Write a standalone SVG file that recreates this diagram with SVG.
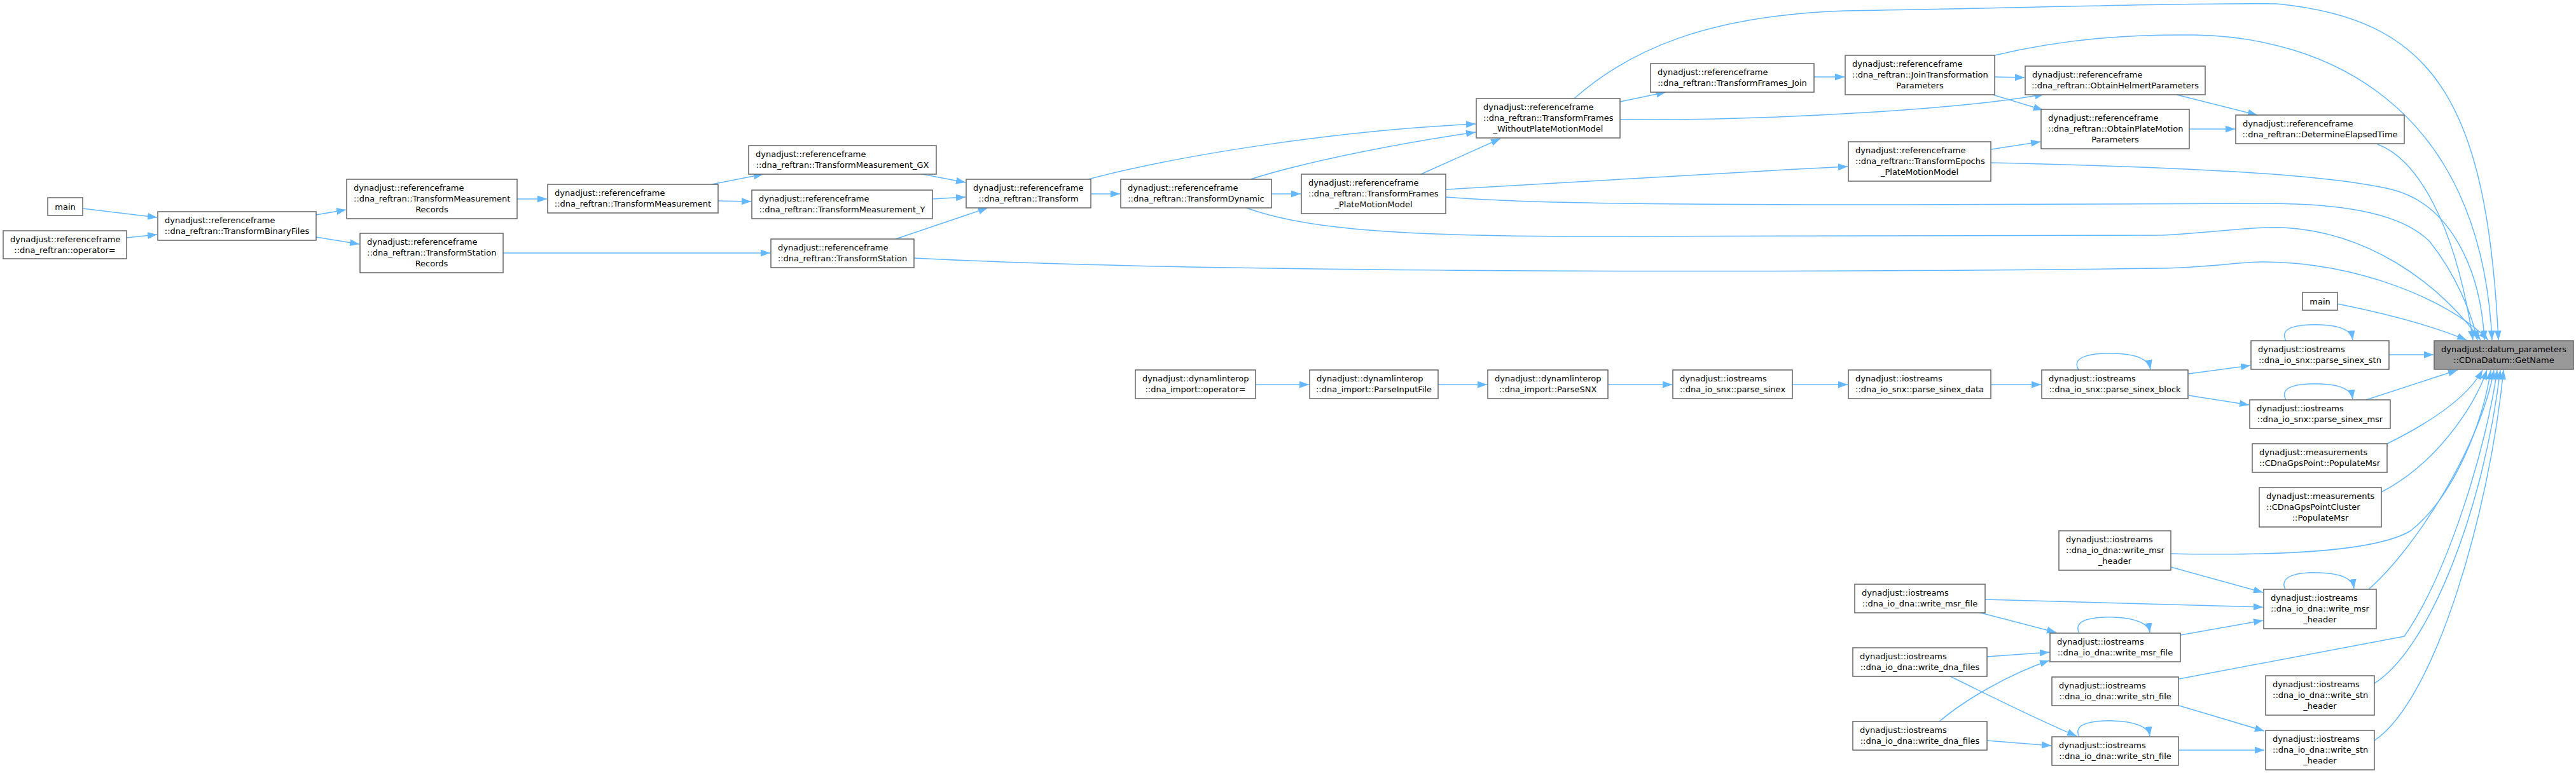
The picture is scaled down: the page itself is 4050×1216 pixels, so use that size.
<svg xmlns="http://www.w3.org/2000/svg" width="4050" height="1216" viewBox="0 0 4050 1216">
<style>
.n rect{fill:#fff;stroke:#666;stroke-width:1.5}
.h rect{fill:#999;stroke:#666;stroke-width:1.5}
text{font-family:"DejaVu Sans",sans-serif;font-size:13px;fill:#000}
.c{text-anchor:middle}
#edges path{fill:none;stroke:#63b8ff;stroke-width:1.5;marker-end:url(#a)}
</style>
<defs>
<marker id="a" markerWidth="15" markerHeight="11" refX="15" refY="5.5" orient="auto" markerUnits="userSpaceOnUse"><path d="M0,0 L15,5.5 L0,11 z" fill="#63b8ff"/></marker>
</defs>
<rect width="4050" height="1216" fill="#fff"/>
<g id="edges">
<path d="M130,328 L247,342"/>
<path d="M199,374 L247,369"/>
<path d="M497,338 L544,330"/>
<path d="M497,373 L565,384"/>
<path d="M813,313 L860,313"/>
<path d="M791,398 L1211,398"/>
<path d="M1119,290 L1200,274"/>
<path d="M1129,316 L1181,317"/>
<path d="M1450,274 L1518,287"/>
<path d="M1466,313 L1518,310"/>
<path d="M1408,376 L1553,327"/>
<path d="M1437,406 C1800,425 2600,432 3400,422 C3480,420 3520,412 3560,412 C3700,412 3850,470 3912,535"/>
<path d="M1715,305 L1761,305"/>
<path d="M1711,282 C1850,245 2100,205 2320,195"/>
<path d="M1966,282 C2050,255 2200,225 2320,208"/>
<path d="M1999,305 L2045,305"/>
<path d="M2234,274 L2359,218"/>
<path d="M1959,327 C2040,355 2150,372 2500,372 L3400,370 C3480,366 3540,356 3590,358 C3720,365 3830,440 3900,535"/>
<path d="M2273,298 C2500,285 2700,272 2905,262"/>
<path d="M2273,310 C2400,320 2600,322 3000,322 L3560,320 C3700,320 3780,340 3820,380 C3860,430 3885,490 3895,535"/>
<path d="M2547,160 L2619,145"/>
<path d="M2547,188 C2800,190 3100,170 3214,148"/>
<path d="M2475,155 C2560,80 2680,25 2900,17 C3200,12 3450,4 3580,6 C3820,30 3910,150 3928,535"/>
<path d="M2852,121 L2900,121"/>
<path d="M3136,121 L3183,122"/>
<path d="M3133,149 L3212,173"/>
<path d="M3136,87 C3250,60 3350,54 3450,55 C3650,58 3900,160 3918,535"/>
<path d="M3422,149 L3549,181"/>
<path d="M3442,203 L3514,203"/>
<path d="M3130,235 L3208,223"/>
<path d="M3130,256 C3400,262 3650,272 3760,298 C3850,320 3900,420 3906,535"/>
<path d="M3738,227 C3800,250 3860,350 3888,535"/>
<path d="M1974,605 L2058,605"/>
<path d="M2261,605 L2338,605"/>
<path d="M2528,605 L2629,605"/>
<path d="M2818,605 L2905,605"/>
<path d="M3130,605 L3209,605"/>
<path d="M3268,582 C3255,560 3290,555 3325,556 C3360,557 3378,565 3381,581"/>
<path d="M3441,588 L3538,575"/>
<path d="M3441,622 L3536,637"/>
<path d="M3594,536 C3582,514 3615,510 3649,511 C3680,512 3697,520 3699,535"/>
<path d="M3594,629 C3582,607 3615,603 3649,604 C3680,605 3697,613 3699,628"/>
<path d="M3756,558 L3826,558"/>
<path d="M3720,629 L3864,582"/>
<path d="M3675,478 C3760,495 3830,515 3878,535"/>
<path d="M3753,698 C3820,665 3880,625 3903,582"/>
<path d="M3744,774 C3830,730 3890,640 3910,582"/>
<path d="M3413,871 C3600,875 3740,865 3790,835 C3860,780 3905,660 3916,582"/>
<path d="M3413,892 L3558,932"/>
<path d="M3593,927 C3582,905 3615,900 3647,901 C3680,902 3699,910 3701,926"/>
<path d="M3724,927 C3800,860 3900,700 3921,582"/>
<path d="M3121,943 L3558,955"/>
<path d="M3110,963 L3233,995"/>
<path d="M3269,996 C3258,975 3290,970 3323,971 C3355,972 3378,980 3380,995"/>
<path d="M3428,999 L3558,976"/>
<path d="M3124,1033 L3222,1026"/>
<path d="M3064,1063 C3120,1090 3194,1128 3265,1158"/>
<path d="M3049,1135 C3090,1100 3160,1060 3222,1039"/>
<path d="M3124,1165 L3225,1173"/>
<path d="M3269,1159 C3258,1138 3290,1133 3323,1134 C3355,1135 3378,1143 3380,1158"/>
<path d="M3426,1110 L3560,1150"/>
<path d="M3426,1068 L3780,1001 C3850,900 3910,700 3926,582"/>
<path d="M3426,1180 L3560,1180"/>
<path d="M3733,1075 C3820,1020 3905,800 3931,582"/>
<path d="M3733,1165 C3830,1100 3915,800 3936,582"/>
</g>
<g id="n1" class="n"><rect x="75" y="311" width="55" height="28"/><text class="c" x="102.5" y="329.5">main</text></g>
<g id="n2" class="n"><rect x="5" y="363" width="194" height="44"/><text x="16" y="381">dynadjust::referenceframe</text><text class="c" x="102" y="398">::dna_reftran::operator=</text></g>
<g id="n3" class="n"><rect x="248" y="333" width="249" height="45"/><text x="259" y="351">dynadjust::referenceframe</text><text class="c" x="372.5" y="368">::dna_reftran::TransformBinaryFiles</text></g>
<g id="n4" class="n"><rect x="545" y="282" width="268" height="62"/><text x="556" y="300">dynadjust::referenceframe</text><text x="556" y="317">::dna_reftran::TransformMeasurement</text><text class="c" x="679" y="334">Records</text></g>
<g id="n5" class="n"><rect x="566" y="367" width="225" height="62"/><text x="577" y="385">dynadjust::referenceframe</text><text x="577" y="402">::dna_reftran::TransformStation</text><text class="c" x="678.5" y="419">Records</text></g>
<g id="n6" class="n"><rect x="861" y="290" width="268" height="45"/><text x="872" y="308">dynadjust::referenceframe</text><text class="c" x="995" y="325">::dna_reftran::TransformMeasurement</text></g>
<g id="n7" class="n"><rect x="1177" y="229" width="295" height="45"/><text x="1188" y="247">dynadjust::referenceframe</text><text class="c" x="1324.5" y="264">::dna_reftran::TransformMeasurement_GX</text></g>
<g id="n8" class="n"><rect x="1182" y="299" width="284" height="45"/><text x="1193" y="317">dynadjust::referenceframe</text><text class="c" x="1324" y="334">::dna_reftran::TransformMeasurement_Y</text></g>
<g id="n9" class="n"><rect x="1212" y="376" width="225" height="45"/><text x="1223" y="394">dynadjust::referenceframe</text><text class="c" x="1324.5" y="411">::dna_reftran::TransformStation</text></g>
<g id="n10" class="n"><rect x="1519" y="282" width="196" height="45"/><text x="1530" y="300">dynadjust::referenceframe</text><text class="c" x="1617" y="317">::dna_reftran::Transform</text></g>
<g id="n11" class="n"><rect x="1762" y="282" width="237" height="45"/><text x="1773" y="300">dynadjust::referenceframe</text><text class="c" x="1880.5" y="317">::dna_reftran::TransformDynamic</text></g>
<g id="n12" class="n"><rect x="2046" y="274" width="227" height="62"/><text x="2057" y="292">dynadjust::referenceframe</text><text x="2057" y="309">::dna_reftran::TransformFrames</text><text class="c" x="2159.5" y="326">_PlateMotionModel</text></g>
<g id="n13" class="n"><rect x="2321" y="155" width="226" height="62"/><text x="2332" y="173">dynadjust::referenceframe</text><text x="2332" y="190">::dna_reftran::TransformFrames</text><text class="c" x="2434" y="207">_WithoutPlateMotionModel</text></g>
<g id="n14" class="n"><rect x="2595" y="100" width="257" height="45"/><text x="2606" y="118">dynadjust::referenceframe</text><text class="c" x="2723.5" y="135">::dna_reftran::TransformFrames_Join</text></g>
<g id="n15" class="n"><rect x="2901" y="87" width="235" height="62"/><text x="2912" y="105">dynadjust::referenceframe</text><text x="2912" y="122">::dna_reftran::JoinTransformation</text><text class="c" x="3018.5" y="139">Parameters</text></g>
<g id="n16" class="n"><rect x="3184" y="104" width="283" height="45"/><text x="3195" y="122">dynadjust::referenceframe</text><text class="c" x="3325.5" y="139">::dna_reftran::ObtainHelmertParameters</text></g>
<g id="n17" class="n"><rect x="3209" y="172" width="233" height="62"/><text x="3220" y="190">dynadjust::referenceframe</text><text x="3220" y="207">::dna_reftran::ObtainPlateMotion</text><text class="c" x="3325.5" y="224">Parameters</text></g>
<g id="n18" class="n"><rect x="2906" y="223" width="224" height="62"/><text x="2917" y="241">dynadjust::referenceframe</text><text x="2917" y="258">::dna_reftran::TransformEpochs</text><text class="c" x="3018" y="275">_PlateMotionModel</text></g>
<g id="n19" class="n"><rect x="3515" y="181" width="265" height="45"/><text x="3526" y="199">dynadjust::referenceframe</text><text class="c" x="3647.5" y="216">::dna_reftran::DetermineElapsedTime</text></g>
<g id="n20" class="h"><rect x="3827" y="536" width="219" height="45"/><text x="3838" y="554">dynadjust::datum_parameters</text><text class="c" x="3936.5" y="571">::CDnaDatum::GetName</text></g>
<g id="n21" class="n"><rect x="3620" y="460" width="55" height="28"/><text class="c" x="3647.5" y="478.5">main</text></g>
<g id="n22" class="n"><rect x="3539" y="536" width="217" height="45"/><text x="3550" y="554">dynadjust::iostreams</text><text class="c" x="3647.5" y="571">::dna_io_snx::parse_sinex_stn</text></g>
<g id="n23" class="n"><rect x="3537" y="629" width="221" height="45"/><text x="3548" y="647">dynadjust::iostreams</text><text class="c" x="3647.5" y="664">::dna_io_snx::parse_sinex_msr</text></g>
<g id="n24" class="n"><rect x="3210" y="582" width="230" height="45"/><text x="3221" y="600">dynadjust::iostreams</text><text class="c" x="3325" y="617">::dna_io_snx::parse_sinex_block</text></g>
<g id="n25" class="n"><rect x="2906" y="582" width="224" height="45"/><text x="2917" y="600">dynadjust::iostreams</text><text class="c" x="3018" y="617">::dna_io_snx::parse_sinex_data</text></g>
<g id="n26" class="n"><rect x="2630" y="582" width="188" height="45"/><text x="2641" y="600">dynadjust::iostreams</text><text class="c" x="2724" y="617">::dna_io_snx::parse_sinex</text></g>
<g id="n27" class="n"><rect x="2339" y="582" width="189" height="45"/><text x="2350" y="600">dynadjust::dynamlinterop</text><text class="c" x="2433.5" y="617">::dna_import::ParseSNX</text></g>
<g id="n28" class="n"><rect x="2059" y="582" width="202" height="45"/><text x="2070" y="600">dynadjust::dynamlinterop</text><text class="c" x="2160" y="617">::dna_import::ParseInputFile</text></g>
<g id="n29" class="n"><rect x="1785" y="582" width="189" height="45"/><text x="1796" y="600">dynadjust::dynamlinterop</text><text class="c" x="1879.5" y="617">::dna_import::operator=</text></g>
<g id="n30" class="n"><rect x="3541" y="698" width="212" height="45"/><text x="3552" y="716">dynadjust::measurements</text><text class="c" x="3647" y="733">::CDnaGpsPoint::PopulateMsr</text></g>
<g id="n31" class="n"><rect x="3552" y="767" width="192" height="62"/><text x="3563" y="785">dynadjust::measurements</text><text x="3563" y="802">::CDnaGpsPointCluster</text><text class="c" x="3648" y="819">::PopulateMsr</text></g>
<g id="n32" class="n"><rect x="3237" y="835" width="176" height="62"/><text x="3248" y="853">dynadjust::iostreams</text><text x="3248" y="870">::dna_io_dna::write_msr</text><text class="c" x="3325" y="887">_header</text></g>
<g id="n33" class="n"><rect x="3559" y="927" width="177" height="62"/><text x="3570" y="945">dynadjust::iostreams</text><text x="3570" y="962">::dna_io_dna::write_msr</text><text class="c" x="3647.5" y="979">_header</text></g>
<g id="n34" class="n"><rect x="2916" y="919" width="205" height="45"/><text x="2927" y="937">dynadjust::iostreams</text><text class="c" x="3018.5" y="954">::dna_io_dna::write_msr_file</text></g>
<g id="n35" class="n"><rect x="3223" y="996" width="205" height="45"/><text x="3234" y="1014">dynadjust::iostreams</text><text class="c" x="3325.5" y="1031">::dna_io_dna::write_msr_file</text></g>
<g id="n36" class="n"><rect x="2913" y="1019" width="211" height="45"/><text x="2924" y="1037">dynadjust::iostreams</text><text class="c" x="3018.5" y="1054">::dna_io_dna::write_dna_files</text></g>
<g id="n37" class="n"><rect x="3226" y="1065" width="199" height="45"/><text x="3237" y="1083">dynadjust::iostreams</text><text class="c" x="3325.5" y="1100">::dna_io_dna::write_stn_file</text></g>
<g id="n38" class="n"><rect x="3562" y="1063" width="171" height="62"/><text x="3573" y="1081">dynadjust::iostreams</text><text x="3573" y="1098">::dna_io_dna::write_stn</text><text class="c" x="3647.5" y="1115">_header</text></g>
<g id="n39" class="n"><rect x="2913" y="1135" width="211" height="45"/><text x="2924" y="1153">dynadjust::iostreams</text><text class="c" x="3018.5" y="1170">::dna_io_dna::write_dna_files</text></g>
<g id="n40" class="n"><rect x="3226" y="1159" width="199" height="45"/><text x="3237" y="1177">dynadjust::iostreams</text><text class="c" x="3325.5" y="1194">::dna_io_dna::write_stn_file</text></g>
<g id="n41" class="n"><rect x="3562" y="1149" width="171" height="62"/><text x="3573" y="1167">dynadjust::iostreams</text><text x="3573" y="1184">::dna_io_dna::write_stn</text><text class="c" x="3647.5" y="1201">_header</text></g>
</svg>
